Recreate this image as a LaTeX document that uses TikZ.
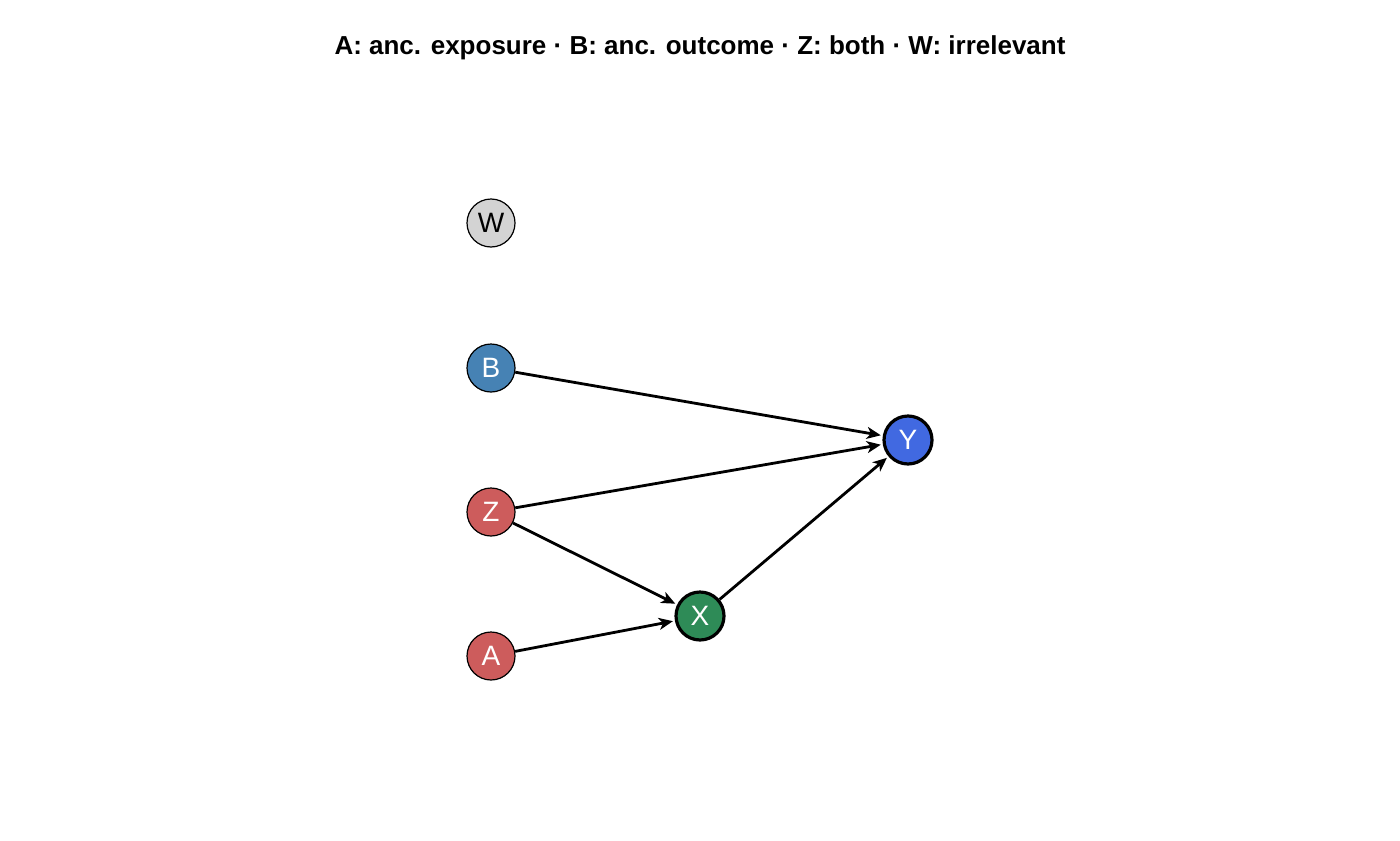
\documentclass[tikz,border=0pt]{standalone}
\usepackage{fontspec}
\setmainfont{Liberation Sans}
\usetikzlibrary{arrows.meta}
\definecolor{cB}{HTML}{4682B4}
\definecolor{cZ}{HTML}{CD5C5C}
\definecolor{cX}{HTML}{2E8B57}
\definecolor{cY}{HTML}{4169E1}
\definecolor{cW}{HTML}{D3D3D3}
\begin{document}
\begin{tikzpicture}[x=0.5pt,y=-0.5pt,
  nd/.style={circle,draw=black,line width=0.6pt,minimum size=24pt,inner sep=0pt,font=\fontsize{14}{14}\selectfont,text=white},
  key/.style={nd,line width=1.6pt},
  ar/.style={line width=1.4pt,-{Stealth[length=7pt,width=6pt,inset=2pt]},shorten >=1pt}]
\useasboundingbox (0,0) rectangle (1400,840);
\node[font=\bfseries\fontsize{13}{13}\selectfont] (t) at (700,48) {A: anc. exposure · B: anc. outcome · Z: both · W: irrelevant};
\node[nd,fill=cW,text=black] (W) at (491,223) {W};
\node[nd,fill=cB] (B) at (491,368) {B};
\node[nd,fill=cZ] (Z) at (491,512) {Z};
\node[nd,fill=cZ] (A) at (491,656) {A};
\node[key,fill=cX] (X) at (700,616) {X};
\node[key,fill=cY] (Y) at (908,440) {Y};
\draw[ar] (B) -- (Y);
\draw[ar] (Z) -- (Y);
\draw[ar] (Z) -- (X);
\draw[ar] (A) -- (X);
\draw[ar] (X) -- (Y);
\end{tikzpicture}
\end{document}
